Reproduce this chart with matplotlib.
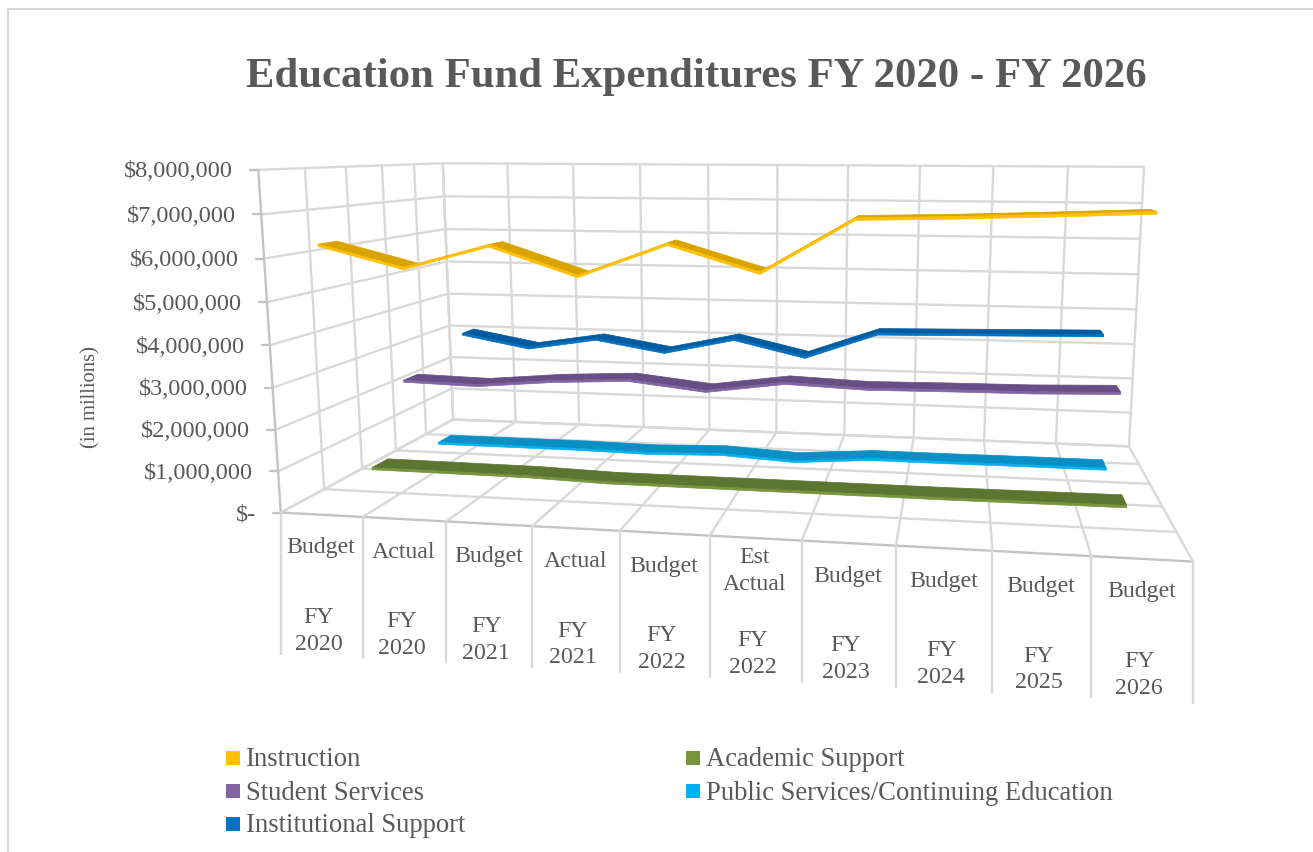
import numpy as np
from matplotlib import pyplot as plt
from matplotlib.patches import Polygon, Rectangle

plt.rcParams['font.family'] = ['Liberation Serif', 'DejaVu Serif']

TITLE = "Education Fund Expenditures FY 2020 - FY 2026"
kinds = ["Budget", "Actual", "Budget", "Actual", "Budget", "Est\nActual", "Budget", "Budget", "Budget", "Budget"]
years = ["FY\n2020", "FY\n2020", "FY\n2021", "FY\n2021", "FY\n2022", "FY\n2022", "FY\n2023", "FY\n2024", "FY\n2025", "FY\n2026"]
y_ticks = [0, 1000000, 2000000, 3000000, 4000000, 5000000, 6000000, 7000000, 8000000]
y_labels = ["$-", "$1,000,000", "$2,000,000", "$3,000,000", "$4,000,000", "$5,000,000", "$6,000,000", "$7,000,000", "$8,000,000"]

instruction = [6300000, 5800000, 6350000, 5700000, 6450000, 5850000, 7050000, 7100000, 7170000, 7250000]
academic = [460000, 450000, 440000, 380000, 380000, 380000, 380000, 380000, 390000, 400000]
student = [2340000, 2290000, 2470000, 2570000, 2350000, 2630000, 2550000, 2580000, 2600000, 2660000]
public = [140000, 140000, 140000, 110000, 170000, 60000, 210000, 210000, 220000, 220000]
institutional = [3000000, 2640000, 2960000, 2630000, 3070000, 2610000, 3340000, 3380000, 3420000, 3460000]

# front to back, as the chart stacks them in depth
series = [
    ("Instruction", instruction, "#FFC000", "#D9A300"),
    ("Academic Support", academic, "#77933C", "#5C7530"),
    ("Student Services", student, "#8064A2", "#674E85"),
    ("Public Services/Continuing Education", public, "#00B0F0", "#0A8FC4"),
    ("Institutional Support", institutional, "#0070C0", "#005C9E"),
]

# box corners on the picture: (category, dollars, depth) -> pixel
NCAT = len(kinds)
NDEPTH = len(series)
VMAX = y_ticks[-1]
corners = [
    ((0, 0, 0), (281, 512)),
    ((0, VMAX, 0), (258, 170)),
    ((0, 0, NDEPTH), (453, 420)),
    ((0, VMAX, NDEPTH), (443, 163)),
    ((NCAT, 0, NDEPTH), (1129, 446)),
    ((NCAT, VMAX, NDEPTH), (1144, 167)),
    ((NCAT, 0, 0), (1193, 562)),
]


def fit_camera(pairs):
    rows = []
    for (c, v, d), (px, py) in pairs:
        p = [c / NCAT, v / VMAX, d / NDEPTH, 1]
        rows.append(p + [0, 0, 0, 0] + [-px * q for q in p])
        rows.append([0, 0, 0, 0] + p + [-py * q for q in p])
    return np.linalg.svd(np.array(rows))[2][-1].reshape(3, 4)


CAM = fit_camera(corners)


def proj(c, v, d):
    h = CAM @ np.array([c / NCAT, v / VMAX, d / NDEPTH, 1])
    return h[0] / h[2], h[1] / h[2]


fig = plt.figure(figsize=(13.13, 8.52), dpi=100)
ax = fig.add_axes([0, 0, 1, 1])
ax.set_xlim(0, 1313)
ax.set_ylim(852, 0)
ax.axis('off')

GRID = "#D9D9D9"
EDGE = "#C4C4C4"


def seg(a, b, color=GRID, lw=1.7):
    ax.plot([a[0], b[0]], [a[1], b[1]], color=color, lw=lw, solid_capstyle='round', zorder=2)


# outer frame, only top and left are in the crop
ax.plot([8, 8, 1313], [852, 9, 9], color="#D9D9D9", lw=1.5)

# back wall
for v in y_ticks:
    seg(proj(0, v, NDEPTH), proj(NCAT, v, NDEPTH))
for c in range(NCAT + 1):
    seg(proj(c, 0, NDEPTH), proj(c, VMAX, NDEPTH))
# left wall
for v in y_ticks:
    seg(proj(0, v, 0), proj(0, v, NDEPTH))
for d in range(NDEPTH + 1):
    seg(proj(0, 0, d), proj(0, VMAX, d), EDGE if d == 0 else GRID)
# floor
for d in range(NDEPTH + 1):
    seg(proj(0, 0, d), proj(NCAT, 0, d), EDGE if d == 0 else GRID)
for c in range(NCAT + 1):
    seg(proj(c, 0, 0), proj(c, 0, NDEPTH))

# y ticks and labels
for v, lab in zip(y_ticks, y_labels):
    x, y = proj(0, v, 0)
    seg((x - 8, y), (x, y), EDGE)
    ax.text(x - 25, y + 2, lab, ha='right', va='center', fontsize=17.6, color="#595959")

ax.text(91, 397, "(in millions)", rotation=90, ha='center', va='center', fontsize=14.9, color="#595959")

# multi-level category axis
for c in range(NCAT + 1):
    x, y = proj(c, 0, 0)
    seg((x, y), (x, y + 141))
for c in range(NCAT):
    x0, y0 = proj(c, 0, 0)
    x1, y1 = proj(c + 1, 0, 0)
    xm = (x0 + x1) / 2
    ym = (y0 + y1) / 2
    ax.text(xm - 1, ym + 33, kinds[c], ha='center', va='center', fontsize=17.2, color="#595959", linespacing=1.35,
            zorder=3)
    ax.text(xm - 3, ym + 116, years[c], ha='center', va='center', fontsize=17.2, color="#595959", linespacing=1.35,
            zorder=3)

# ribbons, back to front
RIB = 0.22
DROP = 55000
for i in range(NDEPTH - 1, -1, -1):
    name, vals, col, dark = series[i]
    dc = i + 0.5
    for j in range(NCAT - 1):
        c0, c1 = j + 0.5, j + 1.5
        v0, v1 = vals[j], vals[j + 1]
        top = [proj(c0, v0, dc - RIB), proj(c1, v1, dc - RIB), proj(c1, v1, dc + RIB), proj(c0, v0, dc + RIB)]
        front = [proj(c0, v0, dc - RIB), proj(c1, v1, dc - RIB), proj(c1, v1 - DROP, dc - RIB), proj(c0, v0 - DROP, dc - RIB)]
        ax.add_patch(Polygon(top, closed=True, fc=dark, ec=dark, lw=0.5, zorder=4 + (NDEPTH - i)))
        ax.add_patch(Polygon(front, closed=True, fc=col, ec=col, lw=0.5, zorder=4 + (NDEPTH - i)))

ax.text(696, 77, TITLE, ha='center', va='center', fontsize=30.8, fontweight='bold', color="#595959")

# legend
legend_pos = [(226, 758), (686, 758), (226, 791), (686, 791), (226, 824)]
for (lx, ly), k in zip(legend_pos, range(NDEPTH)):
    ax.add_patch(Rectangle((lx, ly - 7), 14, 14, fc=series[k][2], ec='none'))
    ax.text(lx + 20, ly + 2, series[k][0], ha='left', va='center', fontsize=19.2, color="#595959")

fig.savefig("out.png", dpi=100)
